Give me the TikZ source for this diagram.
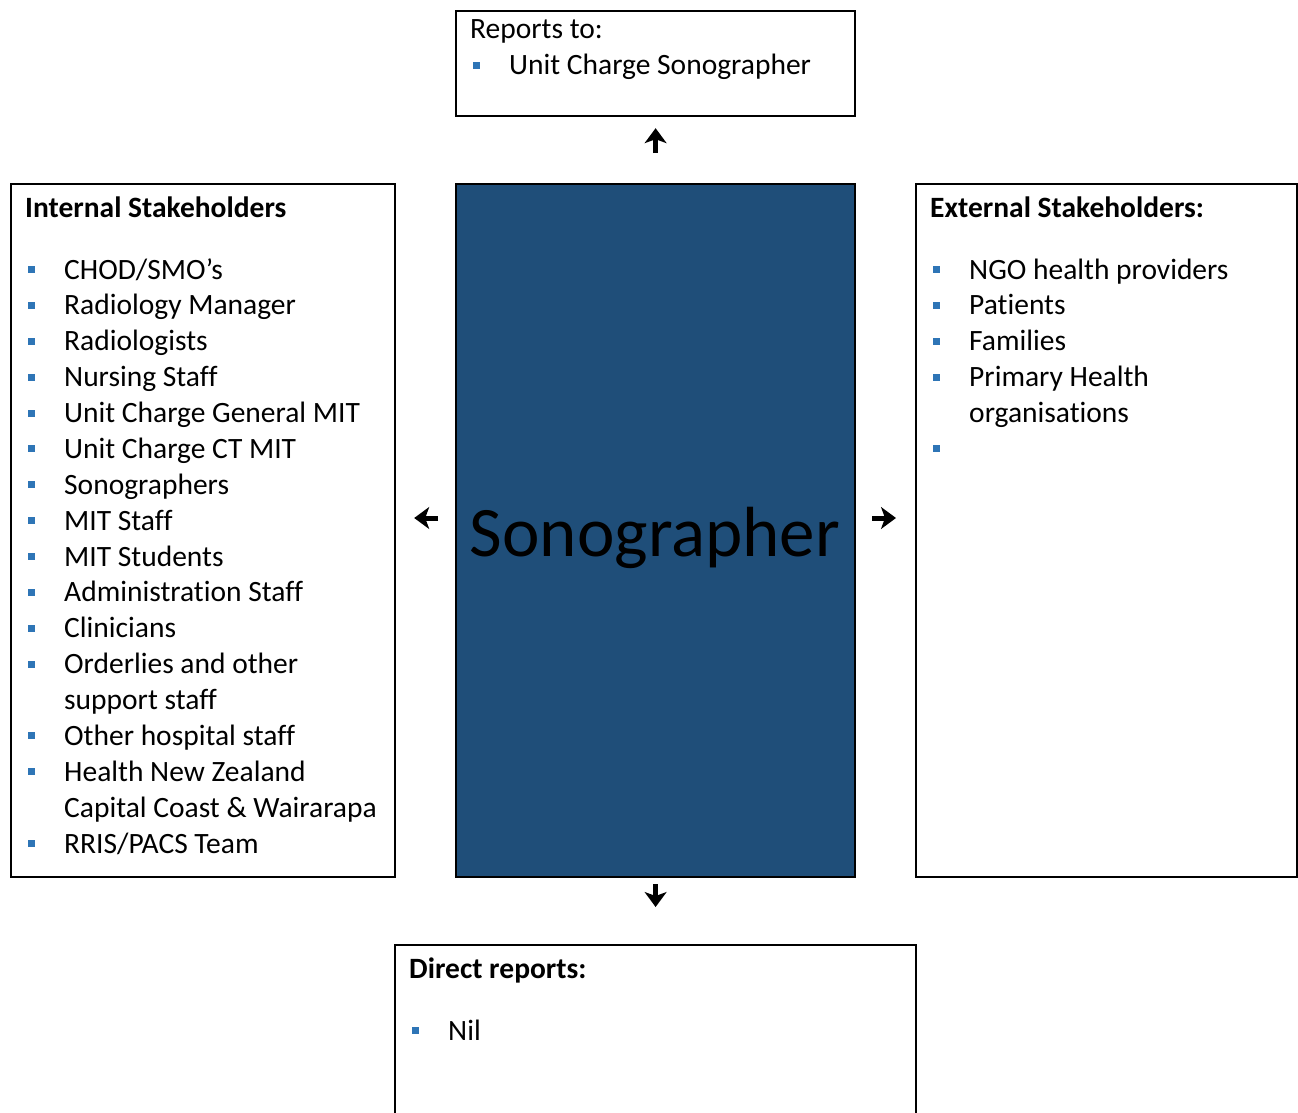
\documentclass[tikz,border=0pt]{standalone}
\usepackage{fontspec}
\setmainfont[Ligatures={NoCommon}]{Carlito}
\usepackage{xcolor}
\usetikzlibrary{arrows.meta}

\definecolor{sonoblue}{RGB}{31,78,121}
\definecolor{bulblue}{RGB}{46,117,182}

\newcommand{\bul}{\makebox[36pt][l]{\textcolor{bulblue}{\rule[6pt]{7pt}{7pt}}}}
\newcommand{\cont}{\hspace*{36pt}}

\tikzset{
  frame/.style={draw,line width=2.2pt,inner sep=0pt,anchor=north west},
  line/.style={anchor=base west,inner sep=0pt,font=\fontsize{29.5}{36}\selectfont},
  head/.style={line,font=\fontsize{29.5}{36}\selectfont\bfseries},
  bigarrow/.style={line width=5pt,-{Stealth[length=15pt,width=22pt,inset=4pt,line width=2pt]}}
}

\begin{document}
\begin{tikzpicture}[x=1pt,y=-1pt]
\useasboundingbox (0,0) rectangle (1298,1113);

% boxes
\node[frame,minimum width=399pt,minimum height=105pt] (rep) at (455,10) {};
\node[frame,minimum width=384pt,minimum height=693pt] (int) at (10,183) {};
\node[frame,fill=sonoblue,minimum width=399pt,minimum height=693pt] (sono) at (455,183) {};
\node[frame,minimum width=381pt,minimum height=693pt] (ext) at (915,183) {};
\node[frame,minimum width=521pt,minimum height=200pt] (dir) at (394,944) {};

\node[anchor=base,inner sep=0pt,font=\fontsize{71}{80}\selectfont] (sonotxt) at (655,556) {Sonographer};

% reports to
\node[line] (rep0) at (470,39) {Reports to:};
\node[line] (rep1) at (473,75) {\bul Unit Charge Sonographer};

% internal
\node[head] (int0) at (25,217) {Internal Stakeholders};
\foreach \txt [count=\i from 0] in {\bul CHOD/SMO’s, \bul Radiology Manager,
  \bul Radiologists, \bul Nursing Staff, \bul Unit Charge General MIT,
  \bul Unit Charge CT MIT, \bul Sonographers, \bul MIT Staff,
  \bul MIT Students, \bul Administration Staff, \bul Clinicians,
  \bul Orderlies and other, \cont support staff, \bul Other hospital staff,
  \bul Health New Zealand, \cont Capital Coast \& Wairarapa, \bul RRIS/PACS Team}
  \node[line] (int-\i) at (28,279+35.875*\i) {\txt};

% external
\node[head] (ext0) at (930,217) {External Stakeholders:};
\foreach \txt [count=\i from 0] in {\bul NGO health providers, \bul Patients,
  \bul Families, \bul Primary Health, \cont organisations, \bul}
  \node[line] (ext-\i) at (933,279+35.875*\i) {\txt};

% direct reports
\node[head] (dir0) at (409,978) {Direct reports:};
\node[line] (dir1) at (412,1040) {\bul Nil};

% arrows
\draw[bigarrow,shorten <=30pt,shorten >=11pt] (sono.north) -- (rep.south);
\draw[bigarrow,shorten <=17pt,shorten >=18pt] (sono.west |- 0,518) -- (int.east |- 0,518);
\draw[bigarrow,shorten <=16pt,shorten >=19pt] (sono.east |- 0,518) -- (ext.west |- 0,518);
\draw[bigarrow,shorten <=6pt,shorten >=37pt] (sono.south) -- (dir.north);
\end{tikzpicture}
\end{document}
